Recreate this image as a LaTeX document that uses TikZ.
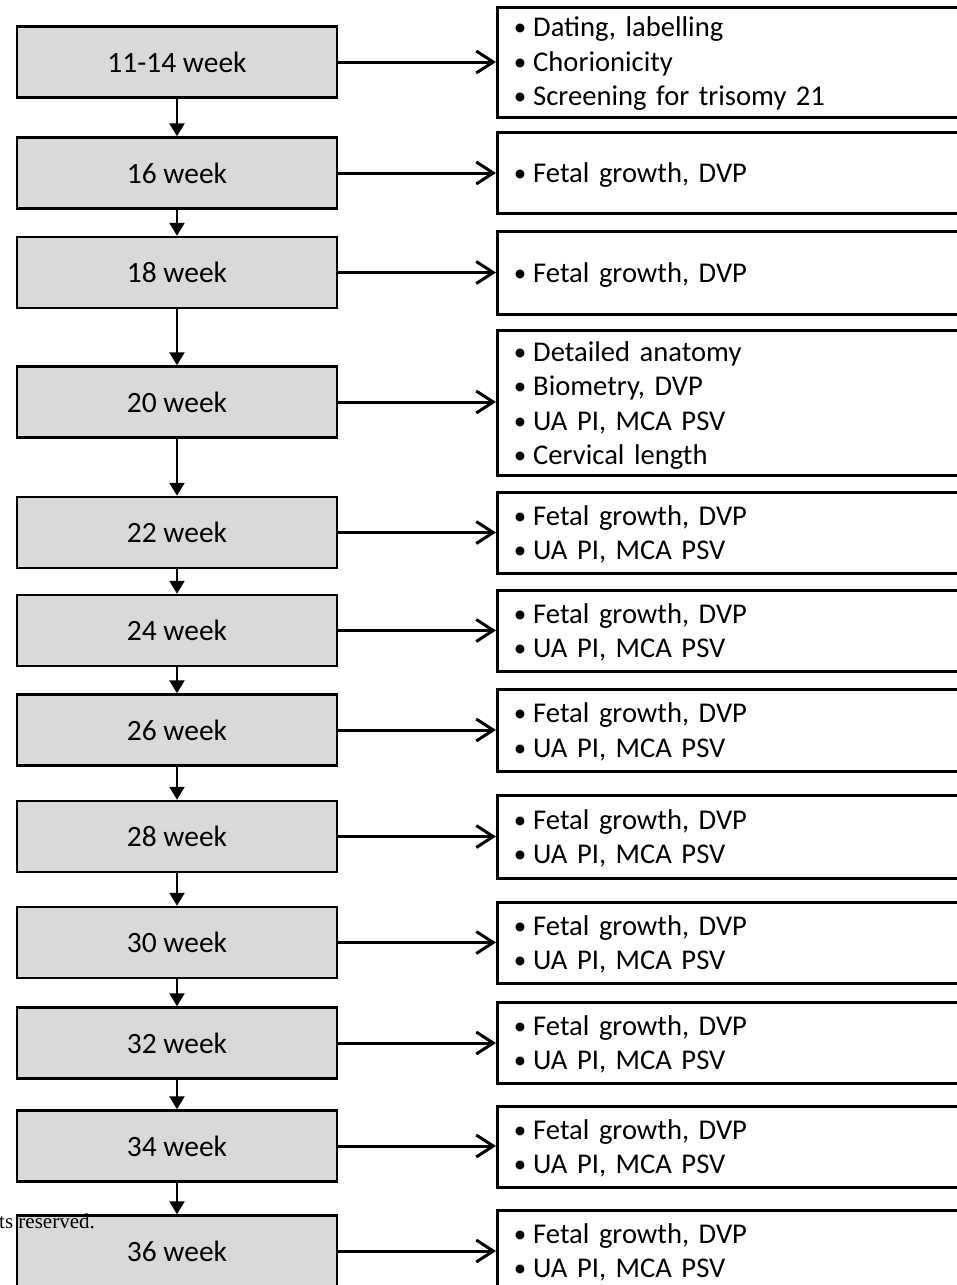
\documentclass[tikz,border=0pt]{standalone}
\usepackage{fontspec}
\setmainfont{Carlito}
\newfontfamily\tnrfont{Liberation Serif}
\usetikzlibrary{arrows.meta}
\definecolor{boxgray}{HTML}{D9D9D9}
\newcommand\bl{\makebox[26pt][c]{\fontsize{25}{25}\selectfont\raisebox{1pt}{•}}}
\tikzset{
  weekbox/.style={draw=black, fill=boxgray, line width=2.5pt, rectangle,
    minimum width=320pt, minimum height=71pt, inner sep=0pt,
    font=\fontsize{29.5}{34.5}\selectfont},
  infobox/.style={draw=black, line width=3pt, rectangle, anchor=west,
    minimum width=520pt, inner sep=0pt},
  infotext/.style={anchor=west, inner sep=0pt, text width=440pt, align=left,
    font=\fontsize{28.6}{34.5}\selectfont},
  downarrow/.style={draw=black, line width=2.5pt, -{Triangle[length=13pt,width=15pt]}},
  sidearrow/.style={draw=black, line width=3pt, -{Straight Barb[length=17pt,width=22pt,line width=3pt]}}
}
\begin{document}
\begin{tikzpicture}[x=1pt,y=-1pt]
\useasboundingbox (0,0) rectangle (957,1285);
\clip (0,0) rectangle (957,1285);
% left week boxes
\node[weekbox] (w1)  at (177,62)    {11-14 week};
\node[weekbox] (w2)  at (177,173)   {16 week};
\node[weekbox] (w3)  at (177,272.5) {18 week};
\node[weekbox] (w4)  at (177,402)   {20 week};
\node[weekbox] (w5)  at (177,532.5) {22 week};
\node[weekbox] (w6)  at (177,630.5) {24 week};
\node[weekbox] (w7)  at (177,730)   {26 week};
\node[weekbox] (w8)  at (177,836.5) {28 week};
\node[weekbox] (w9)  at (177,942.5) {30 week};
\node[weekbox] (w10) at (177,1043)  {32 week};
\node[weekbox] (w11) at (177,1146)  {34 week};
\node[weekbox] (w12) at (177,1251)  {36 week};
% right info boxes (frames)
\node[infobox, minimum height=110pt] (i1) at (496,62) {};
\node[infobox, minimum height=81pt] (i2) at (496,172.5) {};
\node[infobox, minimum height=83pt] (i3) at (496,272.5) {};
\node[infobox, minimum height=145pt] (i4) at (496,402.5) {};
\node[infobox, minimum height=81pt] (i5) at (496,532.5) {};
\node[infobox, minimum height=81pt] (i6) at (496,630.5) {};
\node[infobox, minimum height=82pt] (i7) at (496,730) {};
\node[infobox, minimum height=83pt] (i8) at (496,836.5) {};
\node[infobox, minimum height=81pt] (i9) at (496,942.5) {};
\node[infobox, minimum height=81pt] (i10) at (496,1042.5) {};
\node[infobox, minimum height=81pt] (i11) at (496,1146.5) {};
\node[infobox, minimum height=81pt] (i12) at (496,1250.5) {};
% texts in info boxes
\node[infotext] (t1) at ([xshift=11pt,yshift=-2pt]i1.west)
  {\bl Dating, labelling\\ \bl Chorionicity\\ \bl Screening for trisomy 21};
\node[infotext] (t2) at ([xshift=11pt,yshift=-3pt]i2.west) {\bl Fetal growth, DVP};
\node[infotext] (t3) at ([xshift=11pt,yshift=-3pt]i3.west) {\bl Fetal growth, DVP};
\node[infotext] (t4) at ([xshift=11pt,yshift=-3pt]i4.west)
  {\bl Detailed anatomy\\ \bl Biometry, DVP\\ \bl UA PI, MCA PSV\\ \bl Cervical length};
\foreach \n in {5,...,12}
  \node[infotext] (t\n) at ([xshift=11pt,yshift=-2pt]i\n.west) {\bl Fetal growth, DVP\\ \bl UA PI, MCA PSV};
% vertical arrows
\foreach \a/\b in {w1/w2,w2/w3,w3/w4,w4/w5,w5/w6,w6/w7,w7/w8,w8/w9,w9/w10,w10/w11,w11/w12}
  \draw[downarrow] (\a.south) -- (\b.north);
% horizontal arrows
\foreach \n in {1,...,12}
  \draw[sidearrow] (w\n.east) -- (w\n.east -| i\n.west);
% cut-off caption text
\node[anchor=base west, inner sep=0pt, font=\tnrfont\fontsize{21}{24}\selectfont] (cr) at (-1,1228) {ts reserved.};
\end{tikzpicture}
\end{document}
